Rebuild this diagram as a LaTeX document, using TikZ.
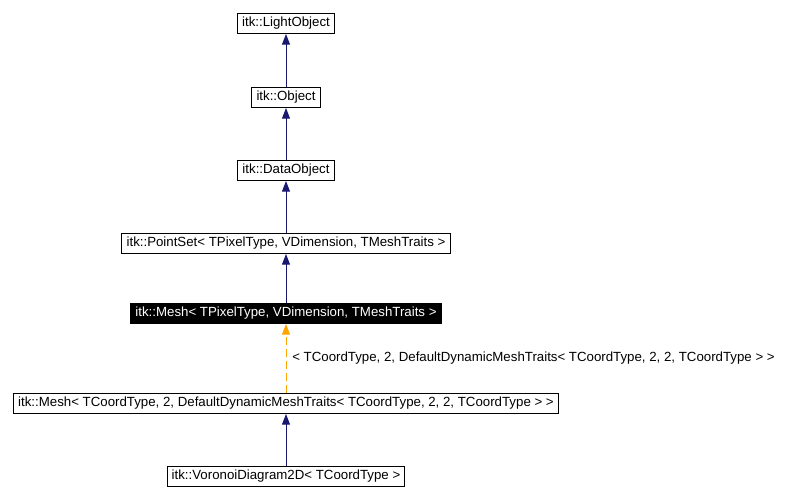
\documentclass[tikz,border=0pt]{standalone}
\usepackage{fontspec}
\setmainfont{Liberation Sans}
\usepackage{xcolor}
\usetikzlibrary{arrows.meta}
\definecolor{edgeblue}{RGB}{25,25,112}
\definecolor{edgeorange}{RGB}{255,165,0}
\tikzstyle{cls} = [rectangle, draw=black, line width=0.75pt, minimum height=15pt, inner xsep=3.5pt, inner ysep=0pt, text centered, font=\fontsize{9.95}{11}\selectfont]
\tikzstyle{current} = [cls, fill=black, text=white]
\tikzstyle{arrow} = [edgeblue, line width=0.75pt, -{Triangle[length=8pt,width=6pt]}]
\tikzstyle{tmpl} = [edgeorange, line width=0.75pt, dash pattern=on 6pt off 3pt, -{Triangle[length=8pt,width=6pt]}]

\begin{document}
\begin{tikzpicture}[x=0.75pt, y=-0.75pt, node distance=54.75pt]
   \useasboundingbox (0,0) rectangle (793,499);
   \node (lo) [cls] at (286,23.5) {itk::LightObject};
   \node (obj) [cls, below of=lo, yshift=-0.75pt] {itk::Object};
   \node (dobj) [cls, below of=obj] {itk::DataObject};
   \node (ps) [cls, below of=dobj] {itk::PointSet< TPixelType, VDimension, TMeshTraits >};
   \node (mesh) [current, below of=ps, yshift=2.25pt] {itk::Mesh< TPixelType, VDimension, TMeshTraits >};
   \node (meshtc) [cls, below of=mesh, yshift=-12.75pt] {itk::Mesh< TCoordType, 2, DefaultDynamicMeshTraits< TCoordType, 2, 2, TCoordType > >};
   \node (vd) [cls, below of=meshtc] {itk::VoronoiDiagram2D< TCoordType >};
   \draw [arrow] (obj) -- (lo);
   \draw [arrow] (dobj) -- (obj);
   \draw [arrow] (ps) -- (dobj);
   \draw [arrow] (mesh) -- (ps);
   \draw [tmpl] (meshtc) -- node[anchor=west, text=black, font=\fontsize{9.95}{11}\selectfont, xshift=1pt] {< TCoordType, 2, DefaultDynamicMeshTraits< TCoordType, 2, 2, TCoordType > >} (mesh);
   \draw [arrow] (vd) -- (meshtc);
\end{tikzpicture}
\end{document}
